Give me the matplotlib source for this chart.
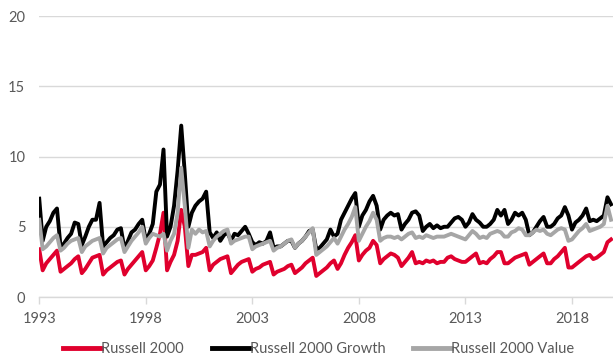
import numpy as np
import pandas as pd
import matplotlib
matplotlib.use("Agg")
import matplotlib.pyplot as plt
import matplotlib.dates as mdates

# bi-monthly observations, Jan 1993 - Nov 2019 (Jan, Mar, May, Jul, Sep, Nov each year)
dates = pd.date_range("1993-01-01", periods=162, freq="2MS")

russell_2000 = [
    3.4, 1.9, 2.4, 2.7, 3.0, 3.3,   # 1993
    1.8, 2.0, 2.2, 2.4, 2.7, 2.9,   # 1994
    1.7, 2.0, 2.4, 2.8, 2.9, 3.0,   # 1995
    1.6, 1.9, 2.1, 2.3, 2.5, 2.6,   # 1996
    1.6, 2.0, 2.3, 2.6, 2.9, 3.2,   # 1997
    1.9, 2.2, 2.6, 3.5, 4.5, 6.0,   # 1998
    1.9, 2.5, 3.0, 4.0, 6.2, 5.0,   # 1999
    2.2, 3.0, 3.0, 3.1, 3.2, 3.5,   # 2000
    1.9, 2.3, 2.5, 2.7, 2.8, 2.9,   # 2001
    1.7, 2.0, 2.3, 2.5, 2.6, 2.7,   # 2002
    1.8, 2.0, 2.1, 2.3, 2.4, 2.5,   # 2003
    1.6, 1.8, 1.9, 2.0, 2.2, 2.3,   # 2004
    1.7, 1.9, 2.1, 2.4, 2.6, 2.8,   # 2005
    1.5, 1.7, 1.9, 2.1, 2.4, 2.6,   # 2006
    2.0, 2.4, 3.0, 3.5, 3.9, 4.4,   # 2007
    2.6, 3.0, 3.3, 3.5, 4.0, 3.7,   # 2008
    2.4, 2.7, 2.9, 3.1, 3.0, 2.8,   # 2009
    2.2, 2.5, 2.8, 3.2, 2.4, 2.5,   # 2010
    2.4, 2.6, 2.5, 2.6, 2.4, 2.5,   # 2011
    2.5, 2.8, 2.9, 2.7, 2.6, 2.5,   # 2012
    2.5, 2.7, 2.9, 3.1, 2.4, 2.5,   # 2013
    2.4, 2.7, 2.9, 3.2, 3.2, 2.4,   # 2014
    2.4, 2.6, 2.8, 2.9, 3.0, 3.1,   # 2015
    2.3, 2.5, 2.7, 2.9, 3.1, 2.4,   # 2016
    2.4, 2.7, 2.9, 3.2, 3.5, 2.1,   # 2017
    2.1, 2.3, 2.5, 2.7, 2.9, 3.0,   # 2018
    2.7, 2.8, 3.0, 3.2, 3.9, 4.1,   # 2019
]

russell_2000_growth = [
    7.0, 4.0, 5.0, 5.4, 6.0, 6.3,
    3.6, 3.8, 4.2, 4.5, 5.3, 5.2,
    3.7, 4.3, 5.0, 5.5, 5.5, 6.7,
    3.6, 3.9, 4.2, 4.4, 4.8, 4.9,
    3.4, 4.0, 4.6, 4.8, 5.2, 5.5,
    4.0, 4.5, 5.2, 7.5, 8.0, 10.5,
    4.3, 5.0, 6.5, 9.0, 12.2, 8.8,
    5.0, 6.0, 6.5, 6.8, 7.0, 7.5,
    4.6, 4.2, 4.6, 4.0, 4.4, 4.6,
    4.0, 4.5, 4.4, 4.7, 5.0, 4.5,
    3.9, 3.7, 3.9, 3.8, 4.0, 4.6,
    3.5, 3.6, 3.6, 3.8, 4.0, 4.0,
    3.5, 3.8, 4.0, 4.3, 4.7, 4.8,
    3.4, 3.5, 3.8, 4.1, 4.8, 4.3,
    4.5, 5.5, 6.0, 6.5, 7.0, 7.4,
    5.0, 5.8, 6.2, 6.8, 7.2, 6.5,
    4.8, 5.5, 5.8, 6.0, 5.8, 5.9,
    4.8, 5.2, 5.5, 6.0, 6.1, 5.8,
    4.7, 5.0, 5.2, 4.9, 5.1, 4.9,
    5.0, 5.0, 5.3, 5.6, 5.7, 5.5,
    5.0, 5.3, 5.9, 5.5, 5.3, 5.0,
    5.0, 5.2, 5.5, 6.2, 5.8, 6.2,
    5.2, 5.5, 6.0, 5.8, 6.0, 5.5,
    4.4, 4.6, 5.0, 5.4, 5.7, 5.0,
    5.0, 5.2, 5.6, 5.8, 6.4, 5.8,
    4.8, 5.3, 5.5, 5.8, 6.3, 5.4,
    5.5, 5.4, 5.6, 5.8, 7.1, 6.6,
]

russell_2000_value = [
    5.5, 3.4, 3.6, 3.9, 4.2, 4.4,
    3.3, 3.5, 3.8, 4.0, 4.1, 4.2,
    3.2, 3.6, 3.8, 4.0, 4.1, 4.2,
    3.1, 3.5, 3.7, 3.9, 4.1, 4.2,
    3.2, 3.6, 4.0, 4.3, 4.6, 5.0,
    3.8, 4.2, 4.5, 4.4, 4.3, 4.5,
    3.3, 4.0, 4.5, 6.0, 9.2, 6.5,
    3.5, 4.8, 4.5, 4.8, 4.6, 4.7,
    3.6, 4.0, 4.3, 4.5, 4.7, 4.8,
    3.8, 4.0, 4.1, 4.2, 4.3, 4.3,
    3.4, 3.6, 3.7, 3.8, 3.9, 4.0,
    3.3, 3.5, 3.6, 3.8, 4.0, 4.1,
    3.5, 3.8, 4.0, 4.3, 4.6, 4.9,
    3.0, 3.2, 3.4, 3.6, 3.9, 4.2,
    3.8, 4.3, 4.8, 5.2, 5.7, 6.4,
    4.0, 4.5, 5.0, 5.4, 6.0, 5.5,
    4.0, 4.2, 4.3, 4.3, 4.2, 4.3,
    4.1, 4.3, 4.5, 4.6, 4.2, 4.3,
    4.2, 4.4, 4.3, 4.2, 4.3, 4.3,
    4.3, 4.4, 4.5, 4.4, 4.3, 4.2,
    4.1, 4.4, 4.7, 4.5, 4.2, 4.3,
    4.2, 4.5, 4.6, 4.7, 4.6, 4.3,
    4.3, 4.6, 4.7, 4.9, 4.8, 4.4,
    4.4, 4.6, 4.8, 4.7, 4.8, 4.5,
    4.4, 4.6, 4.8, 4.9, 4.8, 4.0,
    4.1, 4.4, 4.7, 4.9, 5.2, 4.7,
    4.8, 4.9, 5.0, 5.2, 6.5, 5.5,
]

series_names = ["Russell 2000", "Russell 2000 Growth", "Russell 2000 Value"]
tick_years = [1993, 1998, 2003, 2008, 2013, 2018]

plt.rcParams["font.family"] = ["Lato", "DejaVu Sans"]
text_col = "#595959"
grid_col = "#D9D9D9"

fig = plt.figure(figsize=(6.13, 3.64), dpi=100)
ax = fig.add_axes([0.064, 0.184, 0.936, 0.772])

ax.plot(dates, russell_2000, color="#E0002D", lw=2.8, label=series_names[0])
ax.plot(dates, russell_2000_growth, color="#000000", lw=2.8, label=series_names[1])
ax.plot(dates, russell_2000_value, color="#A6A6A6", lw=2.8, label=series_names[2])

ax.set_ylim(0, 20)
ax.set_yticks([0, 5, 10, 15, 20])
ax.set_xlim(pd.Timestamp("1993-01-01"), pd.Timestamp("2019-12-05"))
ax.set_xticks([pd.Timestamp(f"{y}-01-01") for y in tick_years])
ax.xaxis.set_major_formatter(mdates.DateFormatter("%Y"))

ax.grid(axis="y", color=grid_col, lw=1)
ax.set_axisbelow(True)
for s in ["top", "right", "left"]:
    ax.spines[s].set_visible(False)
ax.spines["bottom"].set_color(grid_col)
ax.spines["bottom"].set_linewidth(1)

ax.tick_params(axis="y", length=0, pad=10, labelsize=10.5, labelcolor=text_col)
ax.tick_params(axis="x", length=5, width=1, color=grid_col, pad=6,
               labelsize=10.5, labelcolor=text_col)

leg = fig.legend(loc="lower center", bbox_to_anchor=(0.52, -0.015), ncol=3,
                 frameon=False, fontsize=10.5, handlelength=2.6,
                 handletextpad=0.0, columnspacing=1.9)
for line in leg.get_lines():
    line.set_linewidth(3.5)
for t in leg.get_texts():
    t.set_color(text_col)

fig.savefig("out.png", dpi=100)
